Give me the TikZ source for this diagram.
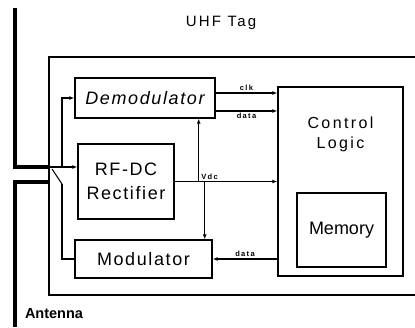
\documentclass[tikz,border=0pt]{standalone}
\usepackage{fontspec}
\setmainfont{Liberation Sans}
\newfontfamily\blkfont[LetterSpace=9]{Liberation Sans}
\newfontfamily\wideblkfont[LetterSpace=15]{Liberation Sans}
\newfontfamily\sigfont[LetterSpace=18]{Liberation Sans}
\usetikzlibrary{positioning,arrows.meta}

\begin{document}
\begin{tikzpicture}[x=1pt,y=-1pt,
	blk/.style={draw, line width=1.4pt, inner sep=0pt, font=\blkfont\fontsize{18}{24}\selectfont},
	sig/.style={line width=1.1pt, -{Latex[length=5pt,width=4pt]}},
	wire/.style={line width=1.1pt},
	lbl/.style={font=\sigfont\bfseries\fontsize{7.5}{8}\selectfont, inner sep=1.5pt},
	ant/.style={line width=3.2pt}]
	% Frame
	\useasboundingbox (0,0) rectangle (415,327);
	% Title
	\node[font=\wideblkfont\fontsize{15}{18}\selectfont] (title) at (221,23) {UHF Tag};
	% Tag outline
	\draw[line width=1.4pt] (415,57) -| (49,295) -- (415,295);
	% Blocks
	\node[blk, minimum width=140pt, minimum height=40pt, font=\blkfont\itshape\fontsize{18}{24}\selectfont] (demod) at (145,98) {Demodulator};
	\node[blk, minimum width=96pt, minimum height=75pt, align=center] (rect) at (126,181.5) {RF-DC\\Rectifier};
	\node[blk, minimum width=137pt, minimum height=38pt] (mod) at (143.5,259) {Modulator};
	\node[blk, minimum width=125pt, minimum height=189pt] (ctrl) at (340.5,181.5) {};
	\node[align=center, font=\wideblkfont\fontsize{16}{20}\selectfont] (ctrltxt) at (340.5,134) {Control\\Logic};
	\node[blk, minimum width=89pt, minimum height=74pt, font=\fontsize{18}{24}\selectfont] (mem) at (341.5,230) {Memory};
	% Antenna
	\coordinate (feed) at (49,167);
	\coordinate (gnd) at (49,182);
	\draw[ant] (15,8) |- (feed);
	\draw[ant] (15,327) |- (gnd);
	\node[font=\bfseries\fontsize{14.5}{16}\selectfont, inner sep=0pt] (antlbl) at (54,314) {Antenna};
	% Feed lines and switch
	\coordinate (tap) at (62,167);
	\coordinate (sw) at (62,184);
	\draw[wire] (feed) -- (tap);
	\draw[sig] (tap) |- (demod.west);
	\draw[sig] (tap) -- (tap -| rect.west);
	\draw[wire] (52,169) -- (sw);
	\draw[wire] (sw) |- (mod.west);
	% Signals
	\coordinate (clk) at ([yshift=5pt]demod.east);
	\coordinate (dat) at ([yshift=-13pt]demod.east);
	\draw[sig] (clk) -- (clk -| ctrl.west) node[midway, above, lbl] {clk};
	\draw[sig] (dat) -- (dat -| ctrl.west) node[midway, below, lbl] {data};
	\draw[sig] (mod.east -| ctrl.west) -- (mod.east) node[midway, above, lbl] {data};
	% Supply
	\path (rect.east) ++(24,0) coordinate (vup) ++(6,0) coordinate (vdn);
	\draw[sig] (rect.east) -- (rect.east -| ctrl.west);
	\node[lbl, above right=0pt and 1pt of vup] (vdc) {Vdc};
	\draw[sig] (vup) -- (vup |- demod.south);
	\draw[sig] (vdn) -- (vdn |- mod.north);
\end{tikzpicture}
\end{document}
